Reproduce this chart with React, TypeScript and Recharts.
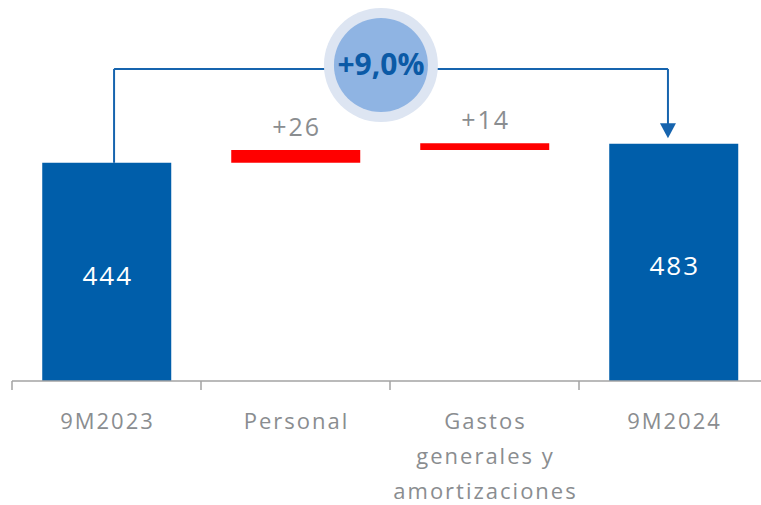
import React from 'react';
import { BarChart, Bar, XAxis, YAxis, LabelList, ReferenceLine, ReferenceDot, Cell } from 'recharts';

const categories = ['9M2023', 'Personal', 'Gastos generales y amortizaciones', '9M2024'];
const tickLines = [['9M2023'], ['Personal'], ['Gastos', 'generales y', 'amortizaciones'], ['9M2024']];
const baseValues = [0, 444, 470, 0];
const deltaValues = [444, 26, 14, 483];
const deltaLabels = ['444', '+26', '+14', '483'];
const isTotal = [true, false, false, true];
const growthLabel = '+9,0%';

const BLUE = '#005eaa';
const RED = '#ff0000';
const GREY = '#8a8d90';
const LINE = '#1664ae';
const FONT = '"Open Sans", sans-serif';

const data = categories.map((name, i) => ({
  name,
  base: baseValues[i],
  value: deltaValues[i],
}));

const CategoryTick = (props: any) => {
  const { x, y, payload, index } = props;
  const half = payload?.offset ?? 94.5;
  const lines = tickLines[index] || [payload.value];
  return (
    <g>
      <line x1={x - half} y1={y} x2={x - half} y2={y + 9} stroke="#a3a3a3" strokeWidth={1.5} />
      <text x={x + 1} y={y + 48} textAnchor="middle" fill={GREY} fontSize={22} fontFamily={FONT} letterSpacing={2}>
        {lines.map((l: string, i: number) => (
          <tspan key={i} x={x + 1} dy={i === 0 ? 0 : 35}>{l}</tspan>
        ))}
      </text>
    </g>
  );
};

const renderValueLabel = (props: any) => {
  const { x, y, width, height, index } = props;
  const cx = Number(x) + Number(width) / 2 + 1;
  if (isTotal[index]) {
    return (
      <text x={cx} y={Number(y) + Number(height) / 2 + 13} textAnchor="middle" fill="#ffffff" fontSize={26} fontFamily={FONT} letterSpacing={2}>
        {deltaLabels[index]}
      </text>
    );
  }
  return (
    <text x={cx} y={Number(y) - 14} textAnchor="middle" fill={GREY} fontSize={25} fontFamily={FONT} letterSpacing={2}>
      {deltaLabels[index]}
    </text>
  );
};

const ArrowLine = (props: any) => {
  const { x1, y1, x2, y2 } = props;
  return (
    <g>
      <line x1={x1} y1={y1} x2={x2} y2={y2 - 14} stroke={LINE} strokeWidth={2} />
      <polygon points={`${x2 - 8},${y2 - 15} ${x2 + 8},${y2 - 15} ${x2},${y2}`} fill={LINE} />
    </g>
  );
};

const GrowthBubble = (props: any) => {
  const { cx, cy } = props;
  return (
    <g>
      <circle cx={cx} cy={cy} r={57} fill="#dde5f2" />
      <circle cx={cx} cy={cy} r={47} fill="#8fb4e3" />
      <text x={cx} y={cy + 10} textAnchor="middle" fill="#0b5aa6" fontSize={30} fontWeight={700} fontFamily={FONT}>
        {growthLabel}
      </text>
    </g>
  );
};

// hidden numeric axis spanning the plot, for placing the connector and bubble
const POS_DOMAIN = [0, 3];

export default function App() {
  return (
    <div style={{ position: 'absolute', left: 0, top: 0, width: 761, height: 505, overflow: 'hidden', background: '#fff' }}>
      <BarChart
        width={780}
        height={505}
        data={data}
        margin={{ top: 37, right: 12, left: 12, bottom: 24 }}
        barCategoryGap="16%"
      >
        <XAxis
          dataKey="name"
          height={100}
          interval={0}
          axisLine={{ stroke: '#a3a3a3', strokeWidth: 1.5 }}
          tickLine={false}
          tickSize={0}
          tickMargin={0}
          tick={<CategoryTick />}
        />
        <XAxis xAxisId="pos" type="number" domain={POS_DOMAIN} allowDataOverflow hide padding={{ left: 0, right: 0 }} />
        <YAxis hide domain={[0, 700]} />
        <Bar dataKey="base" stackId="w" fill="transparent" isAnimationActive={false} />
        <Bar dataKey="value" stackId="w" isAnimationActive={false}>
          {data.map((d, i) => (
            <Cell key={d.name} fill={isTotal[i] ? BLUE : RED} />
          ))}
          <LabelList dataKey="value" content={renderValueLabel} />
        </Bar>
        <ReferenceLine xAxisId="pos" segment={[{ x: 0.405, y: 444 }, { x: 0.405, y: 635 }]} stroke={LINE} strokeWidth={2} ifOverflow="visible" />
        <ReferenceLine xAxisId="pos" segment={[{ x: 0.405, y: 635 }, { x: 2.603, y: 635 }]} stroke={LINE} strokeWidth={2} ifOverflow="visible" />
        <ReferenceLine xAxisId="pos" segment={[{ x: 2.603, y: 635 }, { x: 2.603, y: 494 }]} ifOverflow="visible" shape={ArrowLine} />
        <ReferenceDot xAxisId="pos" x={1.464} y={643} r={57} ifOverflow="visible" shape={GrowthBubble} />
      </BarChart>
    </div>
  );
}
